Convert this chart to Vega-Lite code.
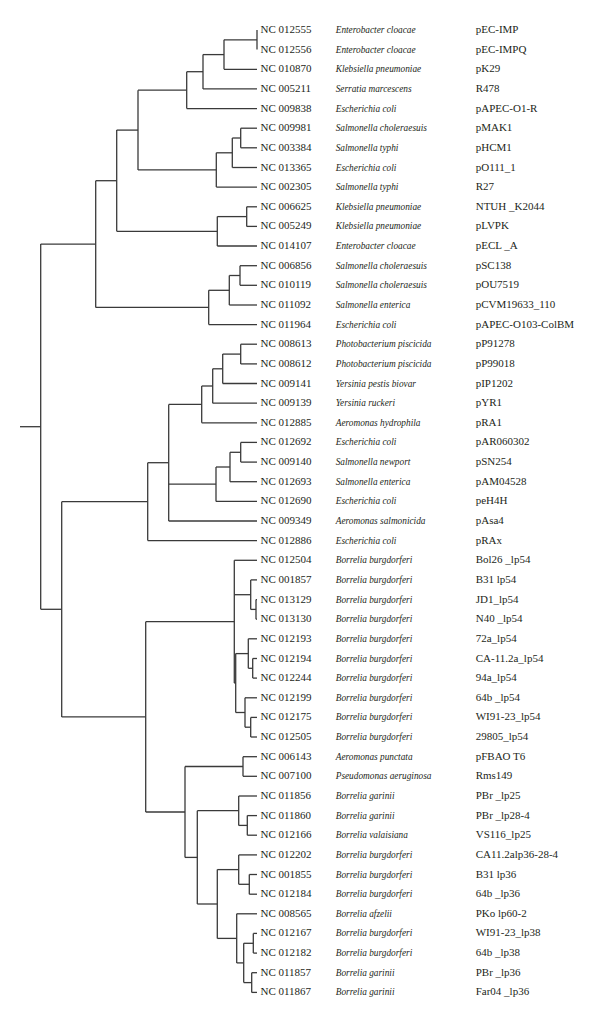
{
  "$schema": "https://vega.github.io/schema/vega-lite/v6.json",
  "width": 600,
  "height": 1021,
  "padding": 0,
  "autosize": "none",
  "background": "white",
  "config": {"view": {"stroke": null}},
  "datasets": {
    "edges": [
      {"x": 20, "x2": 40.7, "y": 426.7, "y2": 426.7},
      {"x": 40.7, "x2": 95.7, "y": 244.1, "y2": 244.1},
      {"x": 40.7, "x2": 61.7, "y": 609.3, "y2": 609.3},
      {"x": 95.7, "x2": 116.7, "y": 180.7, "y2": 180.7},
      {"x": 95.7, "x2": 208.7, "y": 307.4, "y2": 307.4},
      {"x": 116.7, "x2": 138, "y": 130.1, "y2": 130.1},
      {"x": 116.7, "x2": 217.3, "y": 231.3, "y2": 231.3},
      {"x": 138, "x2": 186.7, "y": 90.2, "y2": 90.2},
      {"x": 138, "x2": 216.3, "y": 169.9, "y2": 169.9},
      {"x": 186.7, "x2": 203, "y": 71.7, "y2": 71.7},
      {"x": 186.7, "x2": 257, "y": 108.6, "y2": 108.6},
      {"x": 203, "x2": 224, "y": 54.6, "y2": 54.6},
      {"x": 203, "x2": 257, "y": 88.9, "y2": 88.9},
      {"x": 224, "x2": 257, "y": 39.8, "y2": 39.8},
      {"x": 224, "x2": 257, "y": 69.3, "y2": 69.3},
      {"x": 216.3, "x2": 232.3, "y": 152.8, "y2": 152.8},
      {"x": 216.3, "x2": 257, "y": 187.1, "y2": 187.1},
      {"x": 232.3, "x2": 240.7, "y": 138.0, "y2": 138.0},
      {"x": 232.3, "x2": 257, "y": 167.5, "y2": 167.5},
      {"x": 240.7, "x2": 257, "y": 128.2, "y2": 128.2},
      {"x": 240.7, "x2": 257, "y": 147.8, "y2": 147.8},
      {"x": 217.3, "x2": 246.7, "y": 216.6, "y2": 216.6},
      {"x": 217.3, "x2": 257, "y": 246.0, "y2": 246.0},
      {"x": 246.7, "x2": 257, "y": 206.8, "y2": 206.8},
      {"x": 246.7, "x2": 257, "y": 226.4, "y2": 226.4},
      {"x": 208.7, "x2": 229.3, "y": 290.3, "y2": 290.3},
      {"x": 208.7, "x2": 257, "y": 324.6, "y2": 324.6},
      {"x": 229.3, "x2": 240, "y": 275.5, "y2": 275.5},
      {"x": 229.3, "x2": 257, "y": 305.0, "y2": 305.0},
      {"x": 240, "x2": 257, "y": 265.7, "y2": 265.7},
      {"x": 240, "x2": 257, "y": 285.3, "y2": 285.3},
      {"x": 61.7, "x2": 147.7, "y": 501.7, "y2": 501.7},
      {"x": 61.7, "x2": 145.7, "y": 716.9, "y2": 716.9},
      {"x": 147.7, "x2": 168.7, "y": 462.7, "y2": 462.7},
      {"x": 147.7, "x2": 257, "y": 540.6, "y2": 540.6},
      {"x": 168.7, "x2": 201.7, "y": 404.4, "y2": 404.4},
      {"x": 168.7, "x2": 216, "y": 484.2, "y2": 484.2},
      {"x": 168.7, "x2": 257, "y": 521.0, "y2": 521.0},
      {"x": 201.7, "x2": 212.7, "y": 386.0, "y2": 386.0},
      {"x": 201.7, "x2": 257, "y": 422.8, "y2": 422.8},
      {"x": 212.7, "x2": 222.7, "y": 368.8, "y2": 368.8},
      {"x": 212.7, "x2": 257, "y": 403.2, "y2": 403.2},
      {"x": 222.7, "x2": 240.7, "y": 354.1, "y2": 354.1},
      {"x": 222.7, "x2": 257, "y": 383.5, "y2": 383.5},
      {"x": 240.7, "x2": 257, "y": 344.2, "y2": 344.2},
      {"x": 240.7, "x2": 257, "y": 363.9, "y2": 363.9},
      {"x": 216, "x2": 230, "y": 467.0, "y2": 467.0},
      {"x": 216, "x2": 257, "y": 501.4, "y2": 501.4},
      {"x": 230, "x2": 240.7, "y": 452.3, "y2": 452.3},
      {"x": 230, "x2": 257, "y": 481.7, "y2": 481.7},
      {"x": 240.7, "x2": 257, "y": 442.4, "y2": 442.4},
      {"x": 240.7, "x2": 257, "y": 462.1, "y2": 462.1},
      {"x": 145.7, "x2": 234.3, "y": 621.7, "y2": 621.7},
      {"x": 145.7, "x2": 185, "y": 812.0, "y2": 812.0},
      {"x": 234.3, "x2": 257, "y": 560.3, "y2": 560.3},
      {"x": 234.3, "x2": 250.7, "y": 594.7, "y2": 594.7},
      {"x": 234.3, "x2": 235.7, "y": 683.0, "y2": 683.0},
      {"x": 250.7, "x2": 257, "y": 579.9, "y2": 579.9},
      {"x": 250.7, "x2": 256, "y": 609.4, "y2": 609.4},
      {"x": 256, "x2": 257, "y": 599.6, "y2": 599.6},
      {"x": 256, "x2": 257, "y": 619.2, "y2": 619.2},
      {"x": 235.7, "x2": 248.3, "y": 653.6, "y2": 653.6},
      {"x": 235.7, "x2": 245, "y": 712.5, "y2": 712.5},
      {"x": 248.3, "x2": 257, "y": 638.8, "y2": 638.8},
      {"x": 248.3, "x2": 252.7, "y": 668.3, "y2": 668.3},
      {"x": 252.7, "x2": 257, "y": 658.5, "y2": 658.5},
      {"x": 252.7, "x2": 257, "y": 678.1, "y2": 678.1},
      {"x": 245, "x2": 257, "y": 697.8, "y2": 697.8},
      {"x": 245, "x2": 250.7, "y": 727.2, "y2": 727.2},
      {"x": 250.7, "x2": 257, "y": 717.4, "y2": 717.4},
      {"x": 250.7, "x2": 257, "y": 737.0, "y2": 737.0},
      {"x": 185, "x2": 243, "y": 766.5, "y2": 766.5},
      {"x": 185, "x2": 197.3, "y": 857.4, "y2": 857.4},
      {"x": 243, "x2": 257, "y": 756.7, "y2": 756.7},
      {"x": 243, "x2": 257, "y": 776.3, "y2": 776.3},
      {"x": 197.3, "x2": 238.7, "y": 810.7, "y2": 810.7},
      {"x": 197.3, "x2": 217.3, "y": 904.0, "y2": 904.0},
      {"x": 238.7, "x2": 257, "y": 796.0, "y2": 796.0},
      {"x": 238.7, "x2": 247.3, "y": 825.4, "y2": 825.4},
      {"x": 247.3, "x2": 257, "y": 815.6, "y2": 815.6},
      {"x": 247.3, "x2": 257, "y": 835.2, "y2": 835.2},
      {"x": 217.3, "x2": 238.7, "y": 869.6, "y2": 869.6},
      {"x": 217.3, "x2": 236.7, "y": 938.4, "y2": 938.4},
      {"x": 238.7, "x2": 257, "y": 854.9, "y2": 854.9},
      {"x": 238.7, "x2": 249.3, "y": 884.3, "y2": 884.3},
      {"x": 249.3, "x2": 257, "y": 874.5, "y2": 874.5},
      {"x": 249.3, "x2": 257, "y": 894.2, "y2": 894.2},
      {"x": 236.7, "x2": 257, "y": 913.8, "y2": 913.8},
      {"x": 236.7, "x2": 243.7, "y": 962.9, "y2": 962.9},
      {"x": 243.7, "x2": 253.3, "y": 943.3, "y2": 943.3},
      {"x": 243.7, "x2": 251.7, "y": 982.6, "y2": 982.6},
      {"x": 253.3, "x2": 257, "y": 933.4, "y2": 933.4},
      {"x": 253.3, "x2": 257, "y": 953.1, "y2": 953.1},
      {"x": 251.7, "x2": 257, "y": 972.7, "y2": 972.7},
      {"x": 251.7, "x2": 257, "y": 992.4, "y2": 992.4},
      {"x": 40.7, "x2": 40.7, "y": 244.1, "y2": 609.3},
      {"x": 95.7, "x2": 95.7, "y": 180.7, "y2": 307.4},
      {"x": 116.7, "x2": 116.7, "y": 130.1, "y2": 231.3},
      {"x": 138, "x2": 138, "y": 90.2, "y2": 169.9},
      {"x": 186.7, "x2": 186.7, "y": 71.7, "y2": 108.6},
      {"x": 203, "x2": 203, "y": 54.6, "y2": 88.9},
      {"x": 224, "x2": 224, "y": 39.8, "y2": 69.3},
      {"x": 257, "x2": 257, "y": 30.0, "y2": 49.6},
      {"x": 216.3, "x2": 216.3, "y": 152.8, "y2": 187.1},
      {"x": 232.3, "x2": 232.3, "y": 138.0, "y2": 167.5},
      {"x": 240.7, "x2": 240.7, "y": 128.2, "y2": 147.8},
      {"x": 217.3, "x2": 217.3, "y": 216.6, "y2": 246.0},
      {"x": 246.7, "x2": 246.7, "y": 206.8, "y2": 226.4},
      {"x": 208.7, "x2": 208.7, "y": 290.3, "y2": 324.6},
      {"x": 229.3, "x2": 229.3, "y": 275.5, "y2": 305.0},
      {"x": 240, "x2": 240, "y": 265.7, "y2": 285.3},
      {"x": 61.7, "x2": 61.7, "y": 501.7, "y2": 716.9},
      {"x": 147.7, "x2": 147.7, "y": 462.7, "y2": 540.6},
      {"x": 168.7, "x2": 168.7, "y": 404.4, "y2": 521.0},
      {"x": 201.7, "x2": 201.7, "y": 386.0, "y2": 422.8},
      {"x": 212.7, "x2": 212.7, "y": 368.8, "y2": 403.2},
      {"x": 222.7, "x2": 222.7, "y": 354.1, "y2": 383.5},
      {"x": 240.7, "x2": 240.7, "y": 344.2, "y2": 363.9},
      {"x": 216, "x2": 216, "y": 467.0, "y2": 501.4},
      {"x": 230, "x2": 230, "y": 452.3, "y2": 481.7},
      {"x": 240.7, "x2": 240.7, "y": 442.4, "y2": 462.1},
      {"x": 145.7, "x2": 145.7, "y": 621.7, "y2": 812.0},
      {"x": 234.3, "x2": 234.3, "y": 560.3, "y2": 683.0},
      {"x": 256, "x2": 256, "y": 599.6, "y2": 619.2},
      {"x": 250.7, "x2": 250.7, "y": 579.9, "y2": 609.4},
      {"x": 252.7, "x2": 252.7, "y": 658.5, "y2": 678.1},
      {"x": 248.3, "x2": 248.3, "y": 638.8, "y2": 668.3},
      {"x": 250.7, "x2": 250.7, "y": 717.4, "y2": 737.0},
      {"x": 245, "x2": 245, "y": 697.8, "y2": 727.2},
      {"x": 235.7, "x2": 235.7, "y": 653.6, "y2": 712.5},
      {"x": 185, "x2": 185, "y": 766.5, "y2": 857.4},
      {"x": 243, "x2": 243, "y": 756.7, "y2": 776.3},
      {"x": 197.3, "x2": 197.3, "y": 810.7, "y2": 904.0},
      {"x": 238.7, "x2": 238.7, "y": 796.0, "y2": 825.4},
      {"x": 247.3, "x2": 247.3, "y": 815.6, "y2": 835.2},
      {"x": 217.3, "x2": 217.3, "y": 869.6, "y2": 938.4},
      {"x": 238.7, "x2": 238.7, "y": 854.9, "y2": 884.3},
      {"x": 249.3, "x2": 249.3, "y": 874.5, "y2": 894.2},
      {"x": 236.7, "x2": 236.7, "y": 913.8, "y2": 962.9},
      {"x": 243.7, "x2": 243.7, "y": 943.3, "y2": 982.6},
      {"x": 253.3, "x2": 253.3, "y": 933.4, "y2": 953.1},
      {"x": 251.7, "x2": 251.7, "y": 972.7, "y2": 992.4}
    ],
    "leaves": [
      {"y": 30.0, "acc": "NC 012555", "species": "Enterobacter cloacae", "plasmid": "pEC-IMP"},
      {"y": 49.6, "acc": "NC 012556", "species": "Enterobacter cloacae", "plasmid": "pEC-IMPQ"},
      {"y": 69.3, "acc": "NC 010870", "species": "Klebsiella pneumoniae", "plasmid": "pK29"},
      {"y": 88.9, "acc": "NC 005211", "species": "Serratia marcescens", "plasmid": "R478"},
      {"y": 108.6, "acc": "NC 009838", "species": "Escherichia coli", "plasmid": "pAPEC-O1-R"},
      {"y": 128.2, "acc": "NC 009981", "species": "Salmonella choleraesuis", "plasmid": "pMAK1"},
      {"y": 147.8, "acc": "NC 003384", "species": "Salmonella typhi", "plasmid": "pHCM1"},
      {"y": 167.5, "acc": "NC 013365", "species": "Escherichia coli", "plasmid": "pO111_1"},
      {"y": 187.1, "acc": "NC 002305", "species": "Salmonella typhi", "plasmid": "R27"},
      {"y": 206.8, "acc": "NC 006625", "species": "Klebsiella pneumoniae", "plasmid": "NTUH _K2044"},
      {"y": 226.4, "acc": "NC 005249", "species": "Klebsiella pneumoniae", "plasmid": "pLVPK"},
      {"y": 246.0, "acc": "NC 014107", "species": "Enterobacter cloacae", "plasmid": "pECL _A"},
      {"y": 265.7, "acc": "NC 006856", "species": "Salmonella choleraesuis", "plasmid": "pSC138"},
      {"y": 285.3, "acc": "NC 010119", "species": "Salmonella choleraesuis", "plasmid": "pOU7519"},
      {"y": 305.0, "acc": "NC 011092", "species": "Salmonella enterica", "plasmid": "pCVM19633_110"},
      {"y": 324.6, "acc": "NC 011964", "species": "Escherichia coli", "plasmid": "pAPEC-O103-ColBM"},
      {"y": 344.2, "acc": "NC 008613", "species": "Photobacterium piscicida", "plasmid": "pP91278"},
      {"y": 363.9, "acc": "NC 008612", "species": "Photobacterium piscicida", "plasmid": "pP99018"},
      {"y": 383.5, "acc": "NC 009141", "species": "Yersinia pestis biovar", "plasmid": "pIP1202"},
      {"y": 403.2, "acc": "NC 009139", "species": "Yersinia ruckeri", "plasmid": "pYR1"},
      {"y": 422.8, "acc": "NC 012885", "species": "Aeromonas hydrophila", "plasmid": "pRA1"},
      {"y": 442.4, "acc": "NC 012692", "species": "Escherichia coli", "plasmid": "pAR060302"},
      {"y": 462.1, "acc": "NC 009140", "species": "Salmonella newport", "plasmid": "pSN254"},
      {"y": 481.7, "acc": "NC 012693", "species": "Salmonella enterica", "plasmid": "pAM04528"},
      {"y": 501.4, "acc": "NC 012690", "species": "Escherichia coli", "plasmid": "peH4H"},
      {"y": 521.0, "acc": "NC 009349", "species": "Aeromonas salmonicida", "plasmid": "pAsa4"},
      {"y": 540.6, "acc": "NC 012886", "species": "Escherichia coli", "plasmid": "pRAx"},
      {"y": 560.3, "acc": "NC 012504", "species": "Borrelia burgdorferi", "plasmid": "Bol26 _lp54"},
      {"y": 579.9, "acc": "NC 001857", "species": "Borrelia burgdorferi", "plasmid": "B31 lp54"},
      {"y": 599.6, "acc": "NC 013129", "species": "Borrelia burgdorferi", "plasmid": "JD1_lp54"},
      {"y": 619.2, "acc": "NC 013130", "species": "Borrelia burgdorferi", "plasmid": "N40 _lp54"},
      {"y": 638.8, "acc": "NC 012193", "species": "Borrelia burgdorferi", "plasmid": "72a_lp54"},
      {"y": 658.5, "acc": "NC 012194", "species": "Borrelia burgdorferi", "plasmid": "CA-11.2a_lp54"},
      {"y": 678.1, "acc": "NC 012244", "species": "Borrelia burgdorferi", "plasmid": "94a_lp54"},
      {"y": 697.8, "acc": "NC 012199", "species": "Borrelia burgdorferi", "plasmid": "64b _lp54"},
      {"y": 717.4, "acc": "NC 012175", "species": "Borrelia burgdorferi", "plasmid": "WI91-23_lp54"},
      {"y": 737.0, "acc": "NC 012505", "species": "Borrelia burgdorferi", "plasmid": "29805_lp54"},
      {"y": 756.7, "acc": "NC 006143", "species": "Aeromonas punctata", "plasmid": "pFBAO T6"},
      {"y": 776.3, "acc": "NC 007100", "species": "Pseudomonas aeruginosa", "plasmid": "Rms149"},
      {"y": 796.0, "acc": "NC 011856", "species": "Borrelia garinii", "plasmid": "PBr _lp25"},
      {"y": 815.6, "acc": "NC 011860", "species": "Borrelia garinii", "plasmid": "PBr _lp28-4"},
      {"y": 835.2, "acc": "NC 012166", "species": "Borrelia valaisiana", "plasmid": "VS116_lp25"},
      {"y": 854.9, "acc": "NC 012202", "species": "Borrelia burgdorferi", "plasmid": "CA11.2alp36-28-4"},
      {"y": 874.5, "acc": "NC 001855", "species": "Borrelia burgdorferi", "plasmid": "B31 lp36"},
      {"y": 894.2, "acc": "NC 012184", "species": "Borrelia burgdorferi", "plasmid": "64b _lp36"},
      {"y": 913.8, "acc": "NC 008565", "species": "Borrelia afzelii", "plasmid": "PKo lp60-2"},
      {"y": 933.4, "acc": "NC 012167", "species": "Borrelia burgdorferi", "plasmid": "WI91-23_lp38"},
      {"y": 953.1, "acc": "NC 012182", "species": "Borrelia burgdorferi", "plasmid": "64b _lp38"},
      {"y": 972.7, "acc": "NC 011857", "species": "Borrelia garinii", "plasmid": "PBr _lp36"},
      {"y": 992.4, "acc": "NC 011867", "species": "Borrelia garinii", "plasmid": "Far04 _lp36"}
    ]
  },
  "layer": [
    {
      "data": {"name": "edges"},
      "mark": {"type": "rule", "color": "#3a3a3a", "strokeWidth": 1.3},
      "encoding": {
        "x": {"field": "x", "type": "quantitative", "scale": {"domain": [0, 600], "range": [0, 600], "nice": false, "zero": false}, "axis": null},
        "x2": {"field": "x2"},
        "y": {"field": "y", "type": "quantitative", "scale": {"domain": [0, 1021], "range": [0, 1021], "nice": false, "zero": false}, "axis": null},
        "y2": {"field": "y2"}
      }
    },
    {
      "data": {"name": "leaves"},
      "mark": {"type": "text", "align": "left", "baseline": "middle", "font": "Liberation Serif", "fontSize": 11, "color": "#231f20"},
      "encoding": {
        "x": {"datum": 260.5, "type": "quantitative"},
        "y": {"field": "y", "type": "quantitative"},
        "text": {"field": "acc"}
      }
    },
    {
      "data": {"name": "leaves"},
      "mark": {"type": "text", "align": "left", "baseline": "middle", "font": "Liberation Serif", "fontStyle": "italic", "fontSize": 9.3, "color": "#231f20"},
      "encoding": {
        "x": {"datum": 335.7, "type": "quantitative"},
        "y": {"field": "y", "type": "quantitative"},
        "text": {"field": "species"}
      }
    },
    {
      "data": {"name": "leaves"},
      "mark": {"type": "text", "align": "left", "baseline": "middle", "font": "Liberation Serif", "fontSize": 11, "color": "#231f20"},
      "encoding": {
        "x": {"datum": 475.7, "type": "quantitative"},
        "y": {"field": "y", "type": "quantitative"},
        "text": {"field": "plasmid"}
      }
    }
  ]
}
